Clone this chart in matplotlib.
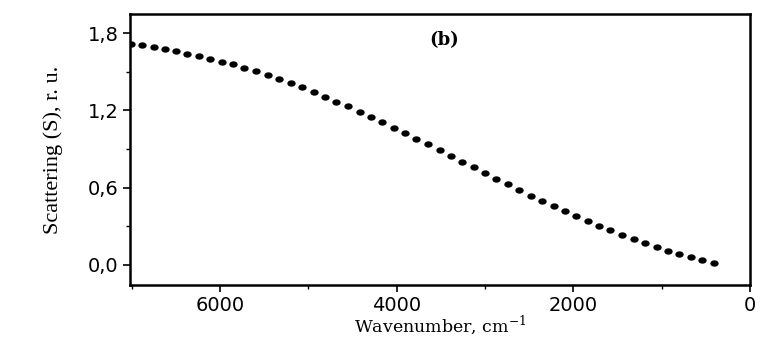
import matplotlib
matplotlib.use("Agg")
import matplotlib.pyplot as plt
from matplotlib.path import Path
from matplotlib.transforms import Affine2D
from matplotlib.ticker import MultipleLocator, FuncFormatter

# wavenumber (cm-1) and scattering values
wavenumber = [7007, 6886, 6750, 6622, 6494, 6369, 6237, 6109, 5980, 5852,
              5724, 5588, 5459, 5331, 5198, 5070, 4942, 4813, 4685, 4549,
              4421, 4292, 4164, 4036, 3907, 3779, 3651, 3515, 3386, 3258,
              3130, 3001, 2873, 2745, 2616, 2480, 2352, 2224, 2095, 1967,
              1839, 1710, 1582, 1446, 1318, 1189, 1058, 929, 801, 673,
              544, 412]
scattering = [1.716, 1.706, 1.695, 1.679, 1.659, 1.641, 1.623, 1.602, 1.578, 1.558,
              1.527, 1.506, 1.475, 1.444, 1.411, 1.380, 1.343, 1.307, 1.268, 1.232,
              1.190, 1.151, 1.110, 1.066, 1.025, 0.981, 0.937, 0.893, 0.849, 0.802,
              0.759, 0.714, 0.670, 0.627, 0.582, 0.538, 0.497, 0.456, 0.417, 0.378,
              0.342, 0.303, 0.269, 0.233, 0.200, 0.171, 0.140, 0.111, 0.085, 0.060,
              0.036, 0.016]
y_ticks = [0.0, 0.6, 1.2, 1.8]
x_ticks = [6000, 4000, 2000, 0]
panel_label = "(b)"

fig, ax = plt.subplots(figsize=(7.6, 3.38), dpi=100)
fig.subplots_adjust(left=0.171, right=0.987, bottom=0.157, top=0.959)

# slightly wide dots, like in the original
dot = Affine2D().scale(1.4, 1.0).transform_path(Path.unit_circle())
ax.plot(wavenumber, scattering, linestyle="none", marker=dot,
        markersize=5, color="black")

ax.set_xlim(7020, 0)
ax.set_ylim(-0.155, 1.95)

ax.set_xticks(x_ticks)
ax.set_yticks(y_ticks)
ax.xaxis.set_minor_locator(MultipleLocator(1000))
ax.yaxis.set_minor_locator(MultipleLocator(0.3))
ax.yaxis.set_major_formatter(FuncFormatter(lambda v, _: f"{v:.1f}".replace(".", ",")))

for lab in ax.get_xticklabels() + ax.get_yticklabels():
    lab.set_fontfamily("DejaVu Sans")
    lab.set_fontsize(14)

ax.tick_params(which="major", direction="out", length=5, width=1.2, pad=3)
ax.tick_params(which="minor", direction="out", length=3, width=1.0)
ax.tick_params(top=False, right=False)
for s in ax.spines.values():
    s.set_linewidth(1.8)

ax.set_xlabel("Wavenumber, cm$^{\\mathregular{-1}}$", fontfamily="DejaVu Serif",
              fontsize=12.5)
ax.xaxis.set_label_coords(0.5, -0.108)
ax.set_ylabel("Scattering (S), r. u.", fontfamily="Liberation Serif",
              fontsize=16, labelpad=18)

ax.text(3462, 1.75, panel_label, fontfamily="DejaVu Serif", fontweight="bold",
        fontsize=13, ha="center", va="center")

fig.savefig("out.png", dpi=100)
